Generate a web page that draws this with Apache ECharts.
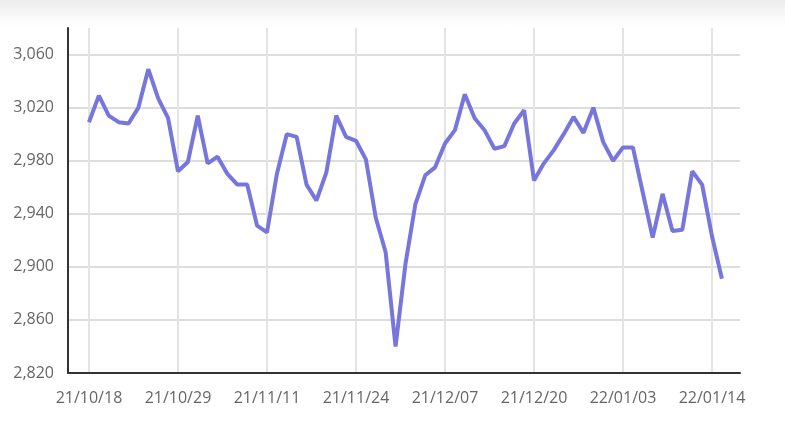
<!DOCTYPE html>
<html>
<head>
<meta charset="utf-8">
<script src="https://cdn.jsdelivr.net/npm/echarts@6/dist/echarts.min.js"></script>
<style>
  html, body { margin: 0; padding: 0; background: #fff; }
  #shade { position: absolute; left: 0; top: 0; width: 785px; height: 26px;
           background: linear-gradient(#ececec, #ffffff); }
  #main { position: absolute; left: 0; top: 0; width: 785px; height: 444px; }
</style>
</head>
<body>
<div id="shade"></div>
<div id="main"></div>
<script>
// trading days (KRX closes on 12/31)
var dates = [
  '21/10/18','21/10/19','21/10/20','21/10/21','21/10/22','21/10/25','21/10/26','21/10/27','21/10/28','21/10/29',
  '21/11/01','21/11/02','21/11/03','21/11/04','21/11/05','21/11/08','21/11/09','21/11/10','21/11/11',
  '21/11/12','21/11/15','21/11/16','21/11/17','21/11/18','21/11/19','21/11/22','21/11/23','21/11/24',
  '21/11/25','21/11/26','21/11/29','21/11/30','21/12/01','21/12/02','21/12/03','21/12/06','21/12/07',
  '21/12/08','21/12/09','21/12/10','21/12/13','21/12/14','21/12/15','21/12/16','21/12/17','21/12/20',
  '21/12/21','21/12/22','21/12/23','21/12/24','21/12/27','21/12/28','21/12/29','21/12/30','22/01/03',
  '22/01/04','22/01/05','22/01/06','22/01/07','22/01/10','22/01/11','22/01/12','22/01/13','22/01/14',
  '22/01/17'
];
var closes = [
  3009, 3029, 3014, 3009, 3008, 3020, 3049, 3027, 3012, 2972,
  2979, 3014, 2978, 2983, 2970, 2962, 2962, 2931, 2926,
  2970, 3000, 2998, 2962, 2950, 2971, 3014, 2998, 2995,
  2981, 2937, 2911, 2840, 2902, 2947, 2969, 2975, 2993,
  3003, 3030, 3012, 3003, 2989, 2991, 3008, 3018, 2965,
  2978, 2988, 3000, 3013, 3001, 3020, 2994, 2980, 2990,
  2990, 2956, 2922, 2955, 2927, 2928, 2972, 2962, 2923,
  2891
];
var xTickIdx = [0, 9, 18, 27, 36, 45, 54, 63];
var yTicks = [2820, 2860, 2900, 2940, 2980, 3020, 3060];

var chart = echarts.init(document.getElementById('main'));
var txt = { color: '#666', fontSize: 16, fontFamily: 'Open Sans' };

var option = {
  animation: false,
  grid: { left: 68, right: 45, top: 28, bottom: 71 },
  xAxis: {
    type: 'value',
    min: -2.12,
    max: 65.83,
    axisLine: { show: true, onZero: false, lineStyle: { color: '#333', width: 2 } },
    axisTick: { show: false, customValues: xTickIdx },
    axisLabel: Object.assign({
      customValues: xTickIdx,
      margin: 17,
      formatter: function (v) { return dates[Math.round(v)]; }
    }, txt),
    splitLine: { show: true, lineStyle: { color: '#e4e4e4', width: 2 } }
  },
  yAxis: {
    type: 'value',
    min: 2820,
    max: 3080,
    axisLine: { show: true, onZero: false, lineStyle: { color: '#333', width: 2 } },
    axisTick: { show: false, customValues: yTicks },
    axisLabel: Object.assign({
      customValues: yTicks,
      margin: 14,
      formatter: function (v) { return v.toLocaleString('en-US'); }
    }, txt),
    splitLine: { show: true, lineStyle: { color: '#d2d2d2', width: 1.5 } }
  },
  series: [{
    type: 'line',
    data: closes.map(function (v, i) { return [i, v]; }),
    showSymbol: false,
    lineStyle: { color: '#7676dc', width: 4 }
  }]
};
chart.setOption(option);
</script>
</body>
</html>
